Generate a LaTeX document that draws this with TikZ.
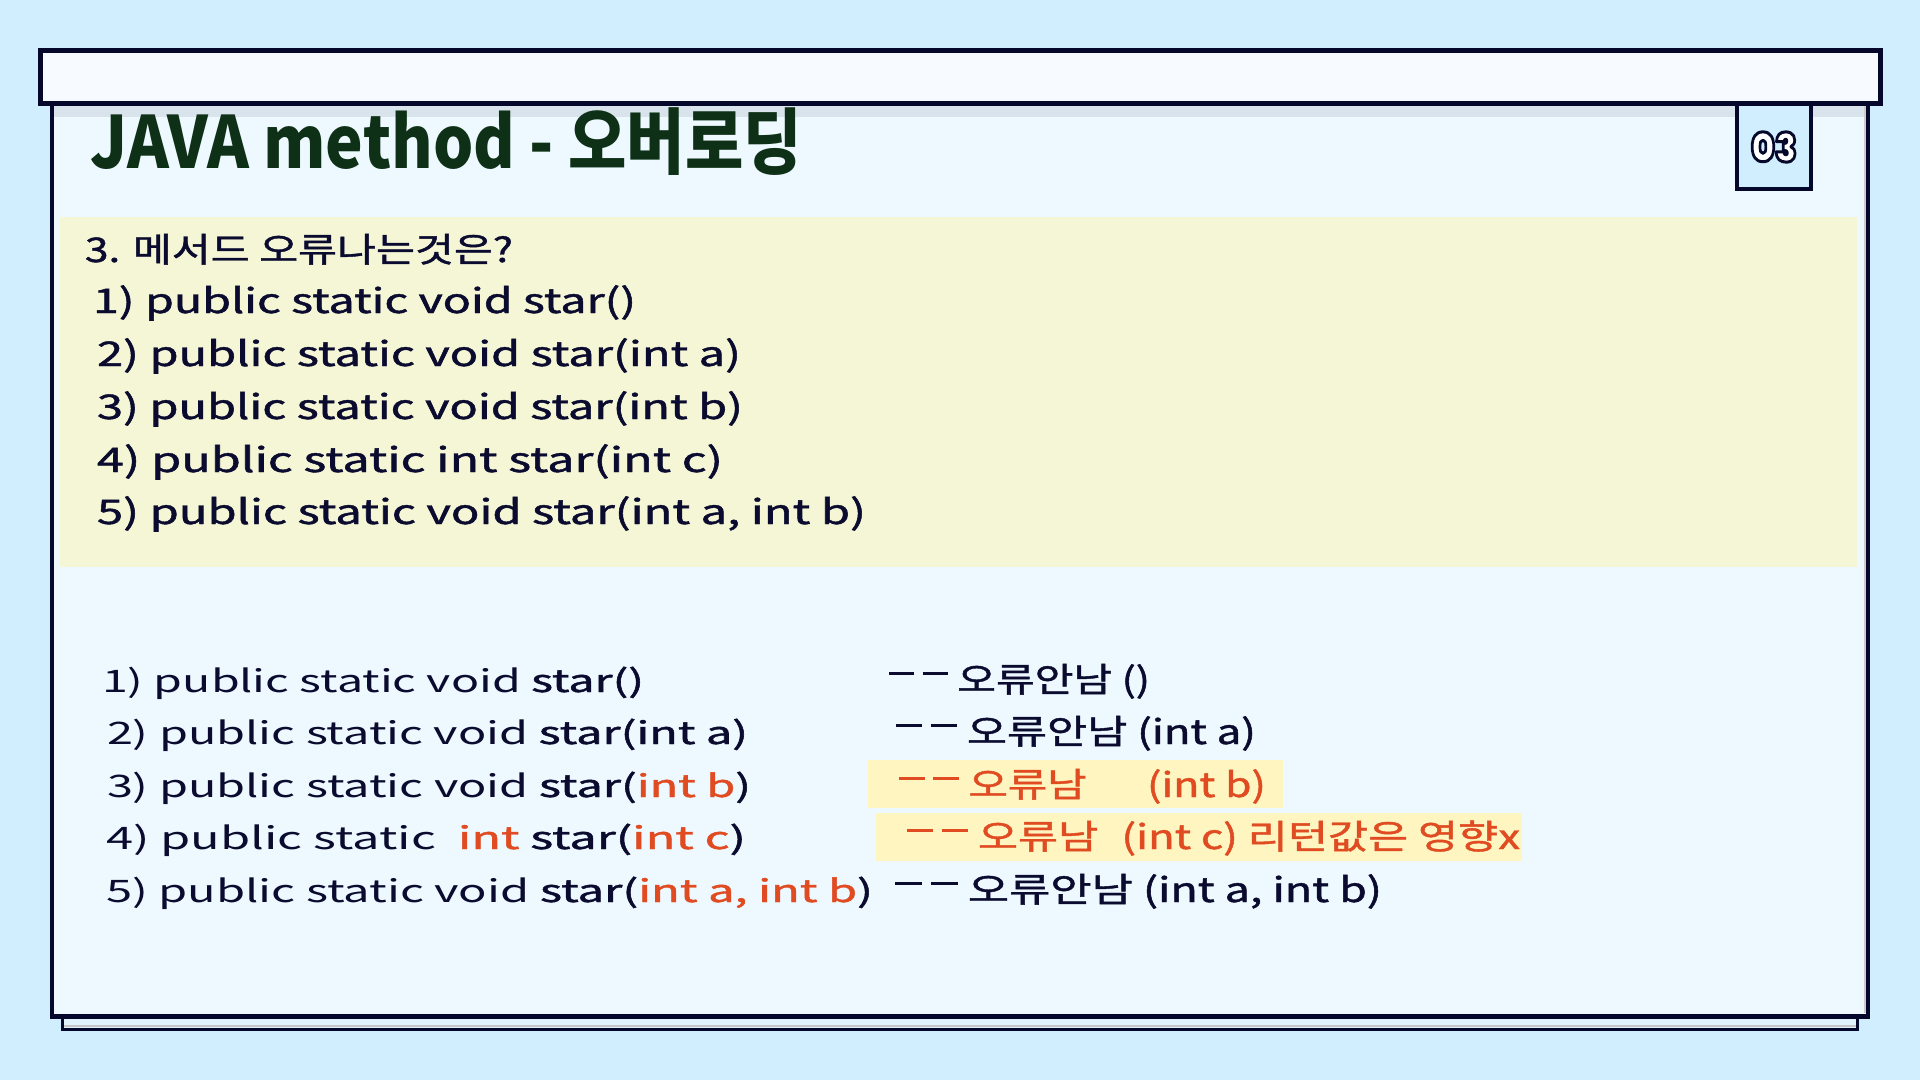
\documentclass[tikz,border=0pt]{standalone}
\usepackage{fontspec}
\usepackage{graphicx}
\newfontfamily\kr{Noto Sans CJK KR}
\newfontfamily\krm{Noto Sans CJK KR}[FakeBold=1.2]
\IfFontExistsTF{Poppins Black}{\newfontfamily\popf{Poppins Black}}{\newfontfamily\popfam{Poppins}\newcommand\popf{\popfam\bfseries}}
\definecolor{bgblue}{HTML}{D0EEFE}
\definecolor{bordc}{HTML}{05082A}
\definecolor{panel}{HTML}{EDF8FF}
\definecolor{stripc}{HTML}{D8E3EC}
\definecolor{barfill}{HTML}{F7FBFF}
\definecolor{shadowfill}{HTML}{E2F2FC}
\definecolor{ybox}{HTML}{F5F6D6}
\definecolor{hl}{HTML}{FEF5C0}
\definecolor{orng}{HTML}{E04B22}
\definecolor{ink}{HTML}{0A0B2E}
\definecolor{tgreen}{HTML}{0D3016}
\newcommand\fitw[2]{\resizebox{#1pt}{\height}{#2}}
\newcommand\numglyph[1]{\resizebox{46pt}{30pt}{\fontsize{40}{40}\popf #1}}
\newcommand\outlinedtext[1]{{\color{white}\special{pdf:code q 2 Tr 3 w 1 j 0.020 0.031 0.165 RG}\numglyph{#1}\special{pdf:code Q}}}
\newcommand\dd{\rule[0.5em]{0.6em}{0.09em}\hspace{0.2em}\rule[0.5em]{0.6em}{0.09em}}
\tikzset{
  txt/.style={anchor=base west, inner sep=0pt, outer sep=0pt, text=ink},
  up/.style={txt},
}
\begin{document}
\begin{tikzpicture}[x=1pt,y=-1pt]
\useasboundingbox (0,0) rectangle (1920,1080);
\fill[bgblue] (0,0) rectangle (1920,1080);
% shadow panel
\filldraw[fill=shadowfill, draw=bordc, line width=3] (62.5,990) rectangle (1857.5,1029.5);
\draw[gray!45, line width=1.5] (64,1026) -- (1856,1026);
% main panel
\filldraw[fill=panel, draw=bordc, line width=4] (52,95) rectangle (1868,1016.5);
\draw[bordc, line width=5] (50,1016.5) -- (1870,1016.5);
\fill[stripc] (54,104) rectangle (1866,117);
\draw[gray!40, line width=2] (1865,106) -- (1865,1013);
% tab
\filldraw[fill=bgblue, draw=bordc, line width=4] (1737,90) rectangle (1811,189);
% top bar
\filldraw[fill=barfill, draw=bordc, line width=5] (40.5,50.5) rectangle (1880.5,103.5);
% tab number
\node[inner sep=0pt] (tabnum) at (1774,147) {\outlinedtext{03}};
% title
\node[txt, text=tgreen] (title) at (90,168) {\fitw{712}{\fontsize{72}{80}\kr\bfseries JAVA method - 오버로딩}};
% yellow box
\fill[ybox] (60,217) rectangle (1857,567);
\node[up] (q0) at (85,262) {\fitw{428}{\fontsize{34}{40}\krm 3. 메서드 오류나는것은?}};
\node[up] (q1) at (93,313) {\fitw{543}{\fontsize{34}{40}\krm 1) public static void star()}};
\node[up] (q2) at (97,366) {\fitw{644}{\fontsize{34}{40}\krm 2) public static void star(int a)}};
\node[up] (q3) at (97,419) {\fitw{646}{\fontsize{34}{40}\krm 3) public static void star(int b)}};
\node[up] (q4) at (97,472) {\fitw{626}{\fontsize{34}{40}\krm 4) public static int star(int c)}};
\node[up] (q5) at (97,524) {\fitw{769}{\fontsize{34}{40}\krm 5) public static void star(int a, int b)}};
% highlights
\fill[hl] (868,760) rectangle (1283,808);
\fill[hl] (876,813) rectangle (1522,861);
% answers left
\node[txt] (l1) at (102,692) {\fitw{542}{\fontsize{31}{36}\kr 1) public static void \krm star()}};
\node[txt] (l2) at (107,744) {\fitw{641}{\fontsize{31}{36}\kr 2) public static void \krm star(int a)}};
\node[txt] (l3) at (107,797) {\fitw{644}{\fontsize{31}{36}\kr 3) public static void \krm star(\textcolor{orng}{int b})}};
\node[txt] (l4) at (106,849) {\fitw{640}{\fontsize{31}{36}\kr 4) public static\hspace{14pt}\krm\textcolor{orng}{int} star(\textcolor{orng}{int c})}};
\node[txt] (l5) at (106,902) {\fitw{767}{\fontsize{31}{36}\kr 5) public static void \krm star(\textcolor{orng}{int a, int b})}};
% answers right
\node[txt] (r1) at (889,692) {\fitw{261}{\fontsize{34}{40}\krm \dd{} 오류안남 ()}};
\node[txt] (r2) at (896,744) {\fitw{360}{\fontsize{34}{40}\krm \dd{} 오류안남 (int a)}};
\node[txt, text=orng] (r3) at (899,797) {\fitw{367}{\fontsize{34}{40}\krm \dd{} 오류남\hspace{48pt}(int b)}};
\node[txt, text=orng] (r4) at (907,849) {\fitw{613}{\fontsize{34}{40}\krm \dd{} 오류남\hspace{18pt}(int c) 리턴값은 영향x}};
\node[txt] (r5) at (895,902) {\fitw{487}{\fontsize{34}{40}\krm \dd{} 오류안남 (int a, int b)}};
\end{tikzpicture}
\end{document}
